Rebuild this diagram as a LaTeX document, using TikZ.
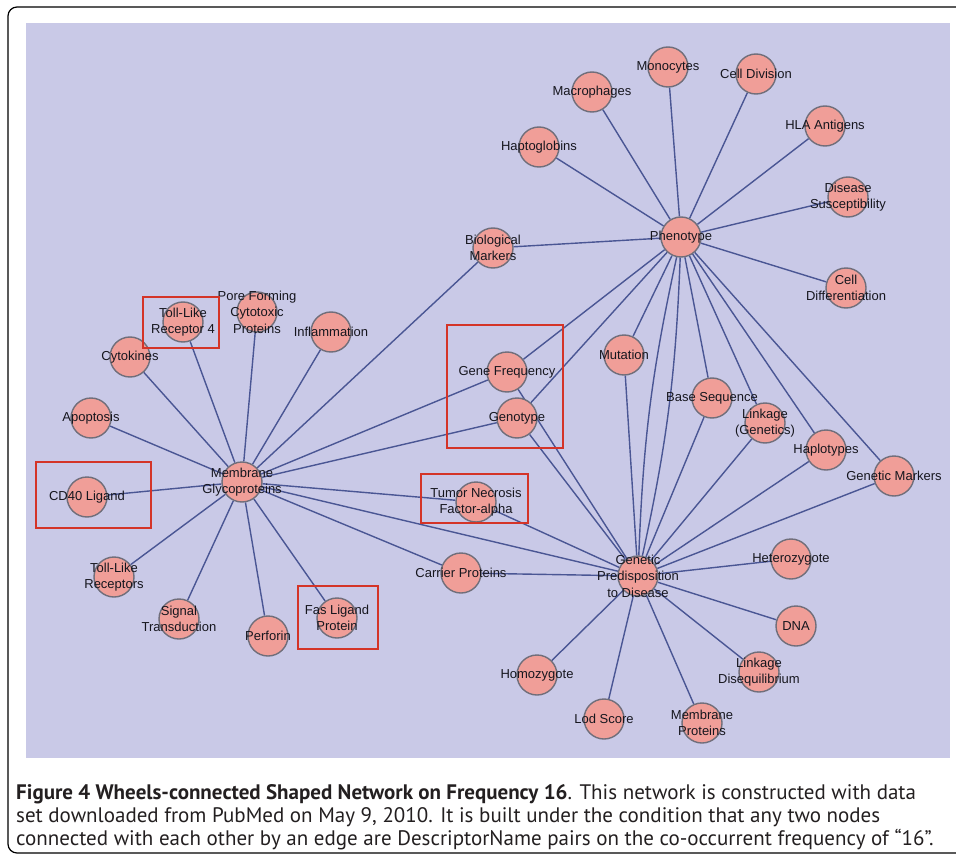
\documentclass[tikz,border=0pt]{standalone}
\usepackage{fontspec}
\setmainfont{Liberation Sans}
\newfontfamily\capfont{PT Sans}
\usepackage{tikz}
\usetikzlibrary{backgrounds}
\definecolor{PanelLav}{RGB}{201,201,231}
\definecolor{NodeFill}{RGB}{240,158,152}
\definecolor{NodeRim}{RGB}{112,110,122}
\definecolor{EdgeBlue}{RGB}{74,86,148}
\definecolor{BoxRed}{RGB}{212,52,40}
\definecolor{LabelInk}{RGB}{22,22,30}
\definecolor{CapInk}{RGB}{35,31,32}
\tikzset{
  vert/.style={circle, draw=NodeRim, line width=1.4pt, fill=NodeFill,
    minimum size=40pt, inner sep=0pt},
  lbl/.style={align=center, inner sep=0pt, text=LabelInk,
    font=\fontsize{13}{16.5}\selectfont},
  conn/.style={draw=EdgeBlue, line width=1.4pt},
  hbox/.style={draw=BoxRed, line width=1.8pt},
  captext/.style={anchor=base west, inner sep=0pt, text=CapInk,
    font=\capfont\fontsize{21}{23}\selectfont}
}

\begin{document}
\begin{tikzpicture}[x=1pt, y=-1pt]
  \useasboundingbox (0,0) rectangle (956,856);
  \begin{scope}[on background layer]
    \fill[PanelLav] (26,23) rectangle (950,758);
  \end{scope}

  % Phenotype wheel
  \node[vert, label={[lbl]center:Phenotype}] (phen) at (681,237) {};
  \node[vert, label={[lbl]center:Monocytes}] (mono) at (668,67) {};
  \node[vert, label={[lbl]center:Cell Division}] (celldiv) at (756,74) {};
  \node[vert, label={[lbl]center:Macrophages}] (macro) at (592,92) {};
  \node[vert, label={[lbl]center:Haptoglobins}] (hapto) at (539,147) {};
  \node[vert, label={[lbl]center:HLA Antigens}] (hla) at (825,126) {};
  \node[vert, label={[lbl]center:{Disease\\Susceptibility}}] (dissus) at (848,197) {};
  \node[vert, label={[lbl]center:{Biological\\Markers}}] (biomark) at (493,248) {};
  \node[vert, label={[lbl]center:{Cell\\Differentiation}}] (celldiff) at (846,288) {};
  \node[vert, label={[lbl]center:Mutation}] (mut) at (624,355) {};
  \node[vert, label={[lbl]center:Gene Frequency}] (genefreq) at (507,372) {};
  \node[vert, label={[lbl]center:Genotype}] (genotype) at (517,418) {};
  \node[vert, label={[lbl]center:{Linkage\\(Genetics)}}] (linkgen) at (765,423) {};
  \node[vert, label={[lbl]center:Base Sequence}] (baseseq) at (712,398) {};
  \node[vert, label={[lbl]center:Haplotypes}] (haplo) at (826,450) {};
  \node[vert, label={[lbl]center:Genetic Markers}] (genmark) at (894,476) {};

  % Genetic Predisposition wheel
  \node[vert, label={[lbl]center:{Genetic\\Predisposition\\to Disease}}] (gpd) at (638,576) {};
  \node[vert, label={[lbl]center:Heterozygote}] (hetero) at (791,559) {};
  \node[vert, label={[lbl]center:DNA}] (dna) at (796,626) {};
  \node[vert, label={[lbl]center:{Linkage\\Disequilibrium}}] (linkdis) at (759,672) {};
  \node[vert, label={[lbl]center:Homozygote}] (homo) at (537,675) {};
  \node[vert, label={[lbl]center:Lod Score}] (lod) at (604,719) {};
  \node[vert, label={[lbl]center:{Membrane\\Proteins}}] (memprot) at (702,723) {};
  \node[vert, label={[lbl]center:Carrier Proteins}] (carrier) at (461,573) {};
  \node[vert, label={[lbl]center:{Tumor Necrosis\\Factor-alpha}}] (tnf) at (476,502) {};

  % Membrane Glycoproteins wheel
  \node[vert, label={[lbl]center:{Membrane\\Glycoproteins}}] (mg) at (242,482) {};
  \node[vert, label={[lbl]center:CD40 Ligand}] (cd40) at (87,497) {};
  \node[vert, label={[lbl]center:{Toll-Like\\Receptors}}] (tlr) at (114,577) {};
  \node[vert, label={[lbl]center:{Signal\\Transduction}}] (sig) at (179,619) {};
  \node[vert, label={[lbl]center:Perforin}] (perf) at (268,636) {};
  \node[vert, label={[lbl]center:{Fas Ligand\\Protein}}] (fas) at (337,618) {};
  \node[vert, label={[lbl]center:{Toll-Like\\Receptor 4}}] (tlr4) at (183,322) {};
  \node[vert, label={[lbl]center:{Pore Forming\\Cytotoxic\\Proteins}}] (pore) at (257,312) {};
  \node[vert, label={[lbl]center:Inflammation}] (inflam) at (331,332) {};
  \node[vert, label={[lbl]center:Cytokines}] (cyto) at (130,357) {};
  \node[vert, label={[lbl]center:Apoptosis}] (apop) at (91,418) {};

  \begin{scope}[on background layer]
    \draw[conn] (phen) -- (mono);  \draw[conn] (phen) -- (celldiv);
    \draw[conn] (phen) -- (macro); \draw[conn] (phen) -- (hapto);
    \draw[conn] (phen) -- (hla);   \draw[conn] (phen) -- (dissus);
    \draw[conn] (phen) -- (biomark); \draw[conn] (phen) -- (celldiff);
    \draw[conn] (phen) -- (mut);   \draw[conn] (phen) -- (genefreq);
    \draw[conn] (phen) -- (genotype); \draw[conn] (phen) -- (baseseq);
    \draw[conn] (phen) -- (linkgen); \draw[conn] (phen) -- (haplo);
    \draw[conn] (phen) -- (genmark);
    \draw[conn] (phen) to[bend left=5] (gpd);
    \draw[conn] (phen) to[bend right=5] (gpd);

    \draw[conn] (gpd) -- (hetero); \draw[conn] (gpd) -- (dna);
    \draw[conn] (gpd) -- (linkdis); \draw[conn] (gpd) -- (homo);
    \draw[conn] (gpd) -- (lod);    \draw[conn] (gpd) -- (memprot);
    \draw[conn] (gpd) -- (carrier); \draw[conn] (gpd) -- (tnf);
    \draw[conn] (gpd) -- (mut);    \draw[conn] (gpd) -- (genefreq);
    \draw[conn] (gpd) -- (genotype); \draw[conn] (gpd) -- (baseseq);
    \draw[conn] (gpd) -- (linkgen); \draw[conn] (gpd) -- (haplo);
    \draw[conn] (gpd) -- (genmark); \draw[conn] (gpd) -- (mg);

    \draw[conn] (mg) -- (cd40);  \draw[conn] (mg) -- (tlr);
    \draw[conn] (mg) -- (sig);   \draw[conn] (mg) -- (perf);
    \draw[conn] (mg) -- (fas);   \draw[conn] (mg) -- (tlr4);
    \draw[conn] (mg) -- (pore);  \draw[conn] (mg) -- (inflam);
    \draw[conn] (mg) -- (cyto);  \draw[conn] (mg) -- (apop);
    \draw[conn] (mg) -- (carrier); \draw[conn] (mg) -- (tnf);
    \draw[conn] (mg) -- (genefreq); \draw[conn] (mg) -- (genotype);
    \draw[conn] (mg) -- (biomark);
  \end{scope}

  % highlighted terms
  \draw[hbox] (143,297) rectangle (219,348);
  \draw[hbox] (36,462) rectangle (151,528);
  \draw[hbox] (298,586) rectangle (378,649);
  \draw[hbox] (447,325) rectangle (563,448);
  \draw[hbox] (421,474) rectangle (528,523);

  % frame and caption
  \draw[line width=1.2pt, rounded corners=9pt] (956,7) -- (8,7) -- (8,853) -- (956,853);
  \node[captext] (cap1) at (16,799) {\textbf{Figure 4 Wheels-connected Shaped Network on Frequency 16}. This network is constructed with data};
  \node[captext] (cap2) at (16,822) {set downloaded from PubMed on May 9, 2010. It is built under the condition that any two nodes};
  \node[captext] (cap3) at (16,845) {connected with each other by an edge are DescriptorName pairs on the co-occurrent frequency of “16”.};
\end{tikzpicture}
\end{document}
